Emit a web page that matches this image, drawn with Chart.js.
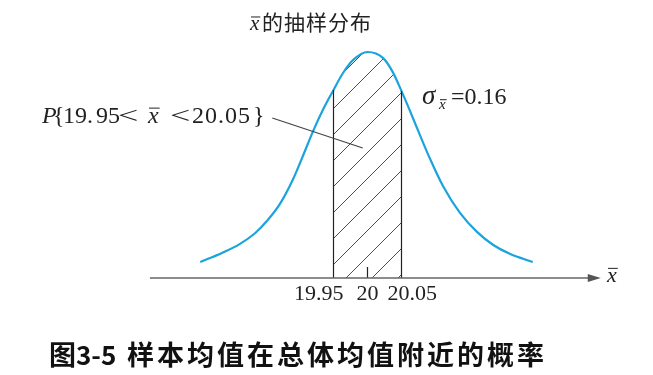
<!DOCTYPE html>
<html>
<head>
<meta charset="utf-8">
<script src="https://cdn.jsdelivr.net/npm/chart.js@4"></script>
<style>
  html, body { margin: 0; padding: 0; background: #fff; }
  #chart { display: block; }
</style>
</head>
<body>
<canvas id="chart" width="653" height="375"></canvas>
<script>
// sampling distribution of the mean (height relative to peak)
const xValues = [19.754, 19.786, 19.812, 19.835, 19.852, 19.871, 19.890, 19.905, 19.920, 19.935, 19.95, 19.964, 19.979, 20.000,
  20.023, 20.037, 20.05, 20.062, 20.077, 20.092, 20.111, 20.136, 20.161, 20.185, 20.210, 20.243];
const density = [0.071, 0.111, 0.150, 0.199, 0.252, 0.327, 0.434, 0.540, 0.650, 0.748, 0.832, 0.907, 0.965, 1.000,
  0.973, 0.912, 0.827, 0.743, 0.633, 0.527, 0.407, 0.288, 0.204, 0.146, 0.106, 0.071];
const shadeFrom = 19.95;
const shadeTo = 20.05;
const tickValues = [19.95, 20, 20.05];
const tickLabels = ['19.95', '20', '20.05'];
const sigmaText = '=0.16';

const curve = xValues.map((x, i) => ({ x, y: density[i] }));
const shaded = curve.filter(p => p.x >= shadeFrom && p.x <= shadeTo);

// hatch pattern
function hatch() {
  const s = 26;
  const c = document.createElement('canvas');
  c.width = s; c.height = s;
  const g = c.getContext('2d');
  g.strokeStyle = '#3a3a3a';
  g.lineWidth = 0.9;
  g.beginPath();
  g.moveTo(-2, s + 2); g.lineTo(s + 2, -2);
  g.moveTo(-2, 2); g.lineTo(2, -2);
  g.moveTo(s - 2, s + 2); g.lineTo(s + 2, s - 2);
  g.stroke();
  return document.getElementById('chart').getContext('2d').createPattern(c, 'repeat');
}

const serif = '"Liberation Serif", "DejaVu Serif", serif';
const cjk = '"Noto Sans CJK SC", sans-serif';

function xbar(ctx, x, y, size) {
  // italic x with a bar on top
  ctx.font = 'italic ' + size + 'px ' + serif;
  ctx.textAlign = 'left';
  ctx.textBaseline = 'alphabetic';
  ctx.fillText('x', x, y);
  const w = ctx.measureText('x').width;
  ctx.beginPath();
  ctx.lineWidth = 1;
  ctx.moveTo(x + 1, y - size * 0.62);
  ctx.lineTo(x + w + 1, y - size * 0.62);
  ctx.stroke();
  return w;
}

const annotations = {
  id: 'annotations',
  afterDatasetsDraw(chart) {
    const { ctx, scales: { x, y } } = chart;
    const px = v => x.getPixelForValue(v);
    const py = v => y.getPixelForValue(v);
    ctx.save();
    ctx.fillStyle = '#222';
    ctx.strokeStyle = '#222';

    // edges of the shaded band
    ctx.lineWidth = 1.2;
    ctx.beginPath();
    [shaded[0], shaded[shaded.length - 1]].forEach(p => {
      ctx.moveTo(px(p.x), py(0));
      ctx.lineTo(px(p.x), py(p.y));
    });
    // small tick at the mean
    ctx.moveTo(px(20), py(0));
    ctx.lineTo(px(20), py(0) - 11);
    ctx.stroke();

    // horizontal axis with arrow
    const y0 = py(0);
    ctx.strokeStyle = '#666';
    ctx.fillStyle = '#555';
    ctx.lineWidth = 1.6;
    ctx.beginPath();
    ctx.moveTo(px(19.68), y0);
    ctx.lineTo(px(20.33), y0);
    ctx.stroke();
    const tip = px(20.343);
    ctx.beginPath();
    ctx.moveTo(tip, y0);
    ctx.lineTo(tip - 13, y0 - 4);
    ctx.lineTo(tip - 13, y0 + 4);
    ctx.closePath();
    ctx.fill();

    ctx.fillStyle = '#222';
    ctx.strokeStyle = '#222';
    xbar(ctx, 607, 282, 22);

    // tick labels
    ctx.font = '22px ' + serif;
    ctx.textBaseline = 'alphabetic';
    ctx.textAlign = 'right';
    ctx.fillText(tickLabels[0], px(tickValues[0]) + 10, 300);
    ctx.textAlign = 'center';
    ctx.fillText(tickLabels[1], px(tickValues[1]), 300);
    ctx.textAlign = 'left';
    ctx.fillText(tickLabels[2], px(tickValues[2]) - 14, 300);

    // leader line
    ctx.strokeStyle = '#444';
    ctx.lineWidth = 1.2;
    ctx.beginPath();
    ctx.moveTo(px(19.860), py(0.708));
    ctx.lineTo(px(19.993), py(0.575));
    ctx.stroke();

    // probability label
    const base = 123;
    ctx.textAlign = 'left';
    ctx.font = 'italic 24px ' + serif;
    ctx.fillText('P', 42, base);
    ctx.font = '24px ' + serif;
    ctx.fillText('{', 53, base);
    ctx.fillText('19.', 63, base);
    ctx.fillText('95', 96, base);
    ctx.save(); ctx.scale(1.5, 1); ctx.fillText('<', 118 / 1.5, base); ctx.restore();
    ctx.strokeStyle = '#222';
    xbar(ctx, 148, base, 24);
    ctx.font = '24px ' + serif;
    ctx.save(); ctx.scale(1.5, 1); ctx.fillText('<', 170 / 1.5, base); ctx.restore();
    ctx.letterSpacing = '1px';
    ctx.fillText('20.05', 192, base);
    ctx.letterSpacing = '0px';
    ctx.fillText('}', 253, base);

    // sigma label
    ctx.font = 'italic 27px ' + serif;
    ctx.fillText('σ', 422, 104);
    xbar(ctx, 439, 109, 15);
    ctx.font = '24px ' + serif;
    ctx.fillText(sigmaText, 451, 104);

    // title
    xbar(ctx, 250, 30, 21);
    ctx.font = '21px ' + cjk;
    ctx.letterSpacing = '1px';
    ctx.fillText('的抽样分布', 262, 30);

    // caption
    ctx.fillStyle = '#111';
    ctx.font = 'bold 27px ' + cjk;
    ctx.letterSpacing = '0px';
    ctx.fillText('图', 49, 365);
    ctx.font = 'bold 26px ' + cjk;
    ctx.fillText('3-5', 76, 365);
    ctx.font = 'bold 27px ' + cjk;
    ctx.letterSpacing = '3px';
    ctx.fillText('样本均值在总体均值附近的概率', 127, 365);
    ctx.restore();
  }
};

new Chart(document.getElementById('chart'), {
  type: 'line',
  data: {
    datasets: [
      {
        data: curve,
        borderColor: '#1ba3de',
        borderWidth: 2.2,
        pointRadius: 0,
        cubicInterpolationMode: 'monotone',
        fill: false,
      },
      {
        data: shaded,
        borderWidth: 0,
        borderColor: 'rgba(0,0,0,0)',
        backgroundColor: hatch(),
        pointRadius: 0,
        cubicInterpolationMode: 'monotone',
        fill: 'origin',
      },
    ],
  },
  options: {
    responsive: false,
    animation: false,
    devicePixelRatio: 1,
    layout: { padding: 0 },
    plugins: { legend: { display: false }, tooltip: { enabled: false }, title: { display: false } },
    scales: {
      x: { type: 'linear', display: false, min: 20 - 367.5 / 680, max: 20 + 285.5 / 680 },
      y: { display: false, min: -97 / 226, max: 278 / 226 },
    },
  },
  plugins: [annotations],
});
</script>
</body>
</html>
